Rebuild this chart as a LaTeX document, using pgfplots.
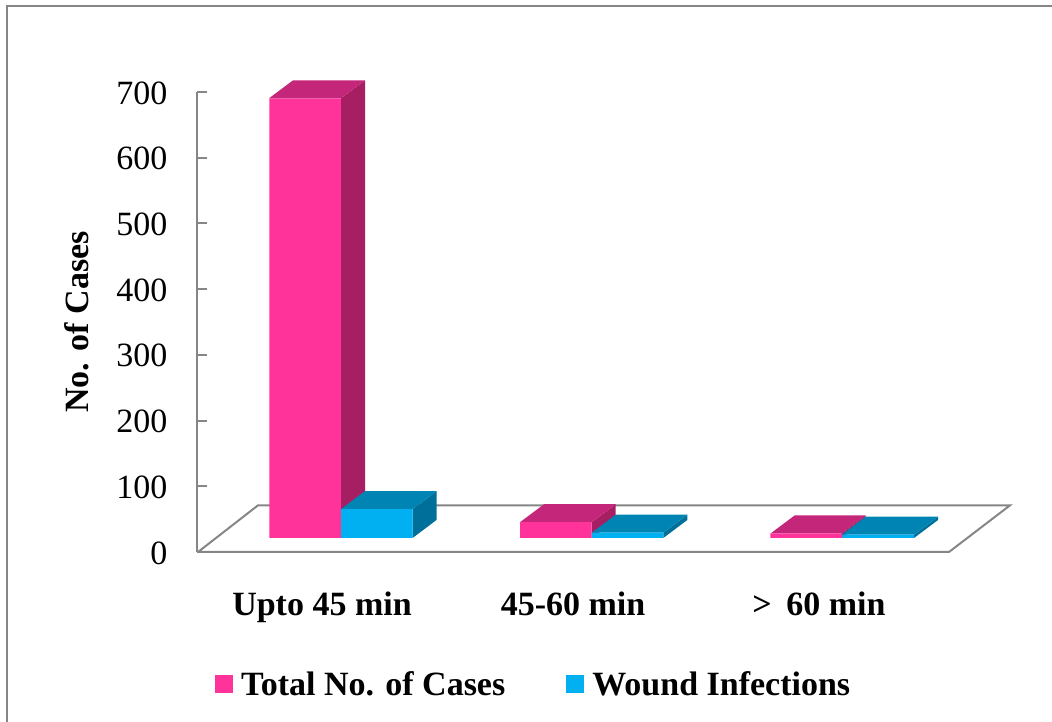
\documentclass[border=0pt]{standalone}
\usepackage{pgfplots}
\pgfplotsset{compat=1.18}
\usepackage{fontspec}
\setmainfont{Liberation Serif}
\definecolor{gline}{HTML}{868686}
\definecolor{pinkF}{HTML}{FF3399}
\definecolor{pinkT}{HTML}{C4277A}
\definecolor{pinkS}{HTML}{A61F63}
\definecolor{blueF}{HTML}{00B0F0}
\definecolor{blueT}{HTML}{0084B4}
\definecolor{blueS}{HTML}{00709B}
\newcommand{\lab}{\fontsize{34pt}{40pt}\selectfont\bfseries}
\begin{document}
\begin{tikzpicture}[x=1pt,y=1pt]
\useasboundingbox (0,0) rectangle (1052,722);
\draw[gline,line width=2pt] (7,0) -- (7,716) -- (1052,716);
% main axis: x in picture units, y in values
\begin{axis}[
  at={(197pt,170pt)}, anchor=south west,
  scale only axis, width=813pt, height=460pt,
  xmin=197, xmax=1010, ymin=0, ymax=700,
  clip=false,
  axis y line*=left, axis x line*=bottom,
  y axis line style={gline,line width=2pt,-},
  x axis line style={draw=none,-},
  ytick={0,100,...,700},
  xtick={322,573,819},
  xticklabels={Upto 45 min,45-60 min,{>\hspace{6pt} 60 min}},
  major tick length=10pt,
  ytick style={gline,line width=2pt},
  xtick style={draw=none},
  /pgf/number format/assume math mode=true,
  yticklabel style={font=\fontsize{34pt}{38pt}\selectfont, xshift=-26pt, yshift=-1pt},
  xticklabel style={font=\lab, yshift=-36pt},
  every axis y label/.style={at={(axis cs:77,350)},rotate=90,anchor=center,font=\lab},
  ylabel={No. of Cases},
]
\addplot[gline,line width=2pt] coordinates {(198,0)(949,0)(1010,71)(258,71)(198,0)};
\end{axis}
% bars: y in values, 0 at the front of the floor
\begin{axis}[
  at={(197pt,170pt)}, anchor=south west,
  scale only axis, width=813pt, height=460pt,
  xmin=197, xmax=1010, ymin=-21.3, ymax=678.7,
  clip=false, hide axis,
  legend columns=2,
  legend style={at={(axis cs:215,-222)},anchor=west,draw=none,fill=none,inner sep=0pt,
     font=\lab,
     /tikz/every even column/.style={column sep=59pt},
     /tikz/every odd column/.style={column sep=6pt}},
  legend cell align=left,
]
% Total No. of Cases
\addplot[fill=pinkS,draw=none,forget plot] coordinates {(341,0)(365,27.4)(365,696.4)(341,669)} -- cycle;
\addplot[fill=pinkT,draw=none,forget plot] coordinates {(269,669)(341,669)(365,696.4)(293,696.4)} -- cycle;
\addplot[fill=pinkS,draw=none,forget plot] coordinates {(591.7,0)(615.7,27.4)(615.7,51.4)(591.7,24)} -- cycle;
\addplot[fill=pinkT,draw=none,forget plot] coordinates {(520,24)(591.7,24)(615.7,51.4)(544,51.4)} -- cycle;
\addplot[fill=pinkS,draw=none,forget plot] coordinates {(841.7,0)(865.7,27.4)(865.7,34.4)(841.7,7)} -- cycle;
\addplot[fill=pinkT,draw=none,forget plot] coordinates {(770.7,7)(841.7,7)(865.7,34.4)(794.7,34.4)} -- cycle;
\addplot[ybar,bar width=71.5,bar shift=0pt,fill=pinkF,draw=none,
   legend image code/.code={\fill[pinkF] (0pt,-9pt) rectangle (18pt,9pt);}]
   coordinates {(305,669)(555.8,24)(806,7)};
\addlegendentry{Total No. of Cases}
% Wound Infections
\addplot[fill=blueS,draw=none,forget plot] coordinates {(412.5,0)(436.5,27.4)(436.5,71.4)(412.5,44)} -- cycle;
\addplot[fill=blueT,draw=none,forget plot] coordinates {(341,44)(412.5,44)(436.5,71.4)(365,71.4)} -- cycle;
\addplot[fill=blueS,draw=none,forget plot] coordinates {(663.3,0)(687.3,27.4)(687.3,35.4)(663.3,8)} -- cycle;
\addplot[fill=blueT,draw=none,forget plot] coordinates {(591.7,8)(663.3,8)(687.3,35.4)(615.7,35.4)} -- cycle;
\addplot[fill=blueS,draw=none,forget plot] coordinates {(914,0)(938,27.4)(938,32.4)(914,5)} -- cycle;
\addplot[fill=blueT,draw=none,forget plot] coordinates {(841.7,5)(914,5)(938,32.4)(865.7,32.4)} -- cycle;
\addplot[ybar,bar width=71.5,bar shift=0pt,fill=blueF,draw=none,
   legend image code/.code={\fill[blueF] (0pt,-9pt) rectangle (18pt,9pt);}]
   coordinates {(376.75,44)(627.5,8)(878,5)};
\addlegendentry{Wound Infections}
\end{axis}
\end{tikzpicture}
\end{document}
